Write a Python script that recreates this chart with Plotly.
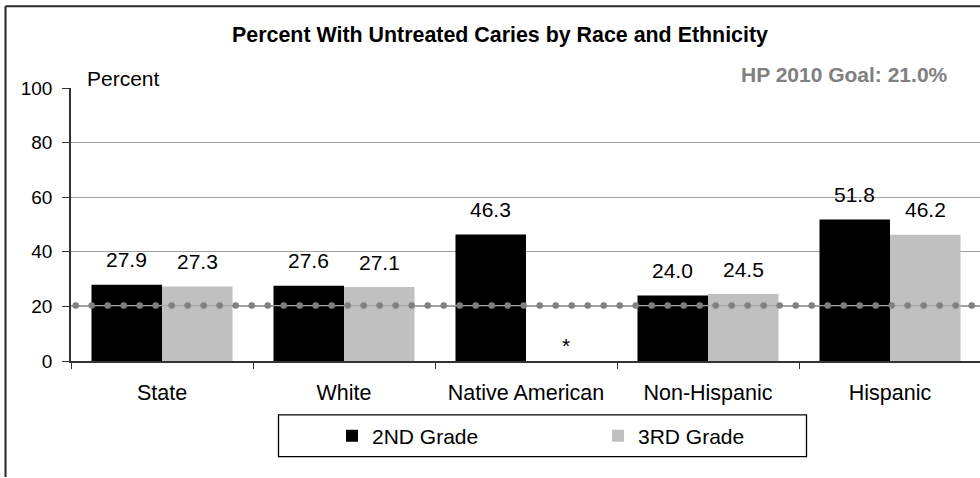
import numpy as np
import plotly.graph_objects as go

# ---- data ----
categories = ["State", "White", "Native American", "Non-Hispanic", "Hispanic"]
grade2 = [27.9, 27.6, 46.3, 24.0, 51.8]
grade3 = [27.3, 27.1, None, 24.5, 46.2]
series_names = ["2ND Grade", "3RD Grade"]
goal_value = 20.3
goal_label = "HP 2010 Goal: 21.0%"
title_text = "Percent With Untreated Caries by Race and Ethnicity"
y_ticks = [0, 20, 40, 60, 80, 100]

FONT = "Liberation Sans, Arial, sans-serif"
W, H = 980, 478
ML, MR, MT, MB = 71, 0, 87.5, 116.5
plot_w = W - ML - MR
plot_h = H - MT - MB
cat_px = 182.0
x_max = -0.5 + plot_w / cat_px

def px_to_paper_x(px):
    return (px - ML) / plot_w

def px_to_paper_y(py):
    return (H - MB - py) / plot_h

fig = go.Figure()
fig.add_trace(go.Bar(x=categories, y=grade2, name=series_names[0],
                     marker=dict(color="#000000", line=dict(width=0))))
fig.add_trace(go.Bar(x=categories, y=[v if v is not None else 0 for v in grade3],
                     name=series_names[1],
                     marker=dict(color="#c0c0c0", line=dict(width=0))))

# goal reference line with round dots (styling pattern)
dot_x = np.arange(-0.5 + 4.7 / cat_px, x_max + 0.05, 16.0 / cat_px)
fig.add_trace(go.Scatter(x=[-0.5, x_max], y=[goal_value, goal_value], xaxis="x2",
                         mode="lines", line=dict(color="#a6a6a6", width=1.2),
                         showlegend=False, hoverinfo="skip"))
fig.add_trace(go.Scatter(x=dot_x, y=[goal_value] * len(dot_x), xaxis="x2",
                         mode="markers", marker=dict(color="#808080", size=6.5, line=dict(width=0)),
                         showlegend=False, hoverinfo="skip"))

annotations = []
half = (1 - 0.225) / 4 * cat_px
for i, c in enumerate(categories):
    for vals, shift in ((grade2, -half), (grade3, half)):
        v = vals[i]
        if v is None:
            annotations.append(dict(x=c, y=0, xref="x", yref="y", text="*", showarrow=False,
                                    xshift=shift + 5, yshift=16, yanchor="middle",
                                    font=dict(family=FONT, size=21, color="#000")))
        else:
            annotations.append(dict(x=c, y=v, xref="x", yref="y", text=f"{v:.1f}", showarrow=False,
                                    xshift=shift, yshift=25, yanchor="middle",
                                    font=dict(family=FONT, size=21, color="#000")))

annotations.append(dict(x=px_to_paper_x(85), y=px_to_paper_y(78), xref="paper", yref="paper",
                        text="Percent", showarrow=False, xanchor="left", yanchor="middle",
                        font=dict(family=FONT, size=21, color="#000")))
annotations.append(dict(x=px_to_paper_x(950), y=px_to_paper_y(74), xref="paper", yref="paper",
                        text=f"<b>{goal_label}</b>", showarrow=False, xanchor="right", yanchor="middle",
                        font=dict(family=FONT, size=21, color="#808080")))

shapes = [
    # outer chart border (left and top visible portions)
    dict(type="line", xref="paper", yref="paper",
         x0=px_to_paper_x(5.5), x1=px_to_paper_x(5.5), y0=px_to_paper_y(5.5), y1=px_to_paper_y(H),
         line=dict(color="#262626", width=2)),
    dict(type="line", xref="paper", yref="paper",
         x0=px_to_paper_x(5.5), x1=px_to_paper_x(W), y0=px_to_paper_y(5.5), y1=px_to_paper_y(5.5),
         line=dict(color="#262626", width=2)),
    # legend box
    dict(type="rect", xref="paper", yref="paper",
         x0=px_to_paper_x(278.5), x1=px_to_paper_x(806.5), y0=px_to_paper_y(457.5), y1=px_to_paper_y(415.5),
         line=dict(color="#000", width=1.3), fillcolor="rgba(0,0,0,0)"),
]

fig.update_layout(
    width=W, height=H,
    margin=dict(l=ML, r=MR, t=MT, b=MB, pad=0),
    paper_bgcolor="white", plot_bgcolor="white",
    barmode="group", bargap=0.225, bargroupgap=0,
    font=dict(family=FONT, size=20, color="#000"),
    title=dict(text=f"<b>{title_text}</b>", x=500 / W, xref="container", xanchor="center",
               y=1 - 34.5 / H, yref="container", yanchor="middle",
               font=dict(family=FONT, size=21.4, color="#000")),
    xaxis=dict(type="category", range=[-0.5, x_max], tickson="boundaries",
               ticks="outside", ticklen=6, tickcolor="#333", tickwidth=1,
               showline=True, linecolor="#333", linewidth=1.5, showgrid=False,
               tickfont=dict(family=FONT, size=21.5, color="#000"), ticklabelstandoff=11),
    xaxis2=dict(overlaying="x", range=[-0.5, x_max], visible=False),
    yaxis=dict(range=[0, 100], tickvals=y_ticks, ticks="outside", ticklen=7, tickcolor="#333",
               showline=True, linecolor="#333", linewidth=1.5,
               showgrid=True, gridcolor="#a0a0a0", gridwidth=1, zeroline=False,
               tickfont=dict(family=FONT, size=19, color="#000"), ticklabelstandoff=6),
    showlegend=True,
    legend=dict(orientation="h", x=px_to_paper_x(332), y=px_to_paper_y(437), xanchor="left",
                yanchor="middle", entrywidth=221, entrywidthmode="pixels",
                bgcolor="rgba(0,0,0,0)", borderwidth=0,
                font=dict(family=FONT, size=21, color="#000")),
    annotations=annotations,
    shapes=shapes,
)

fig.write_html("out.html", config={"displayModeBar": False},
               post_script="document.body.style.margin='0';")
